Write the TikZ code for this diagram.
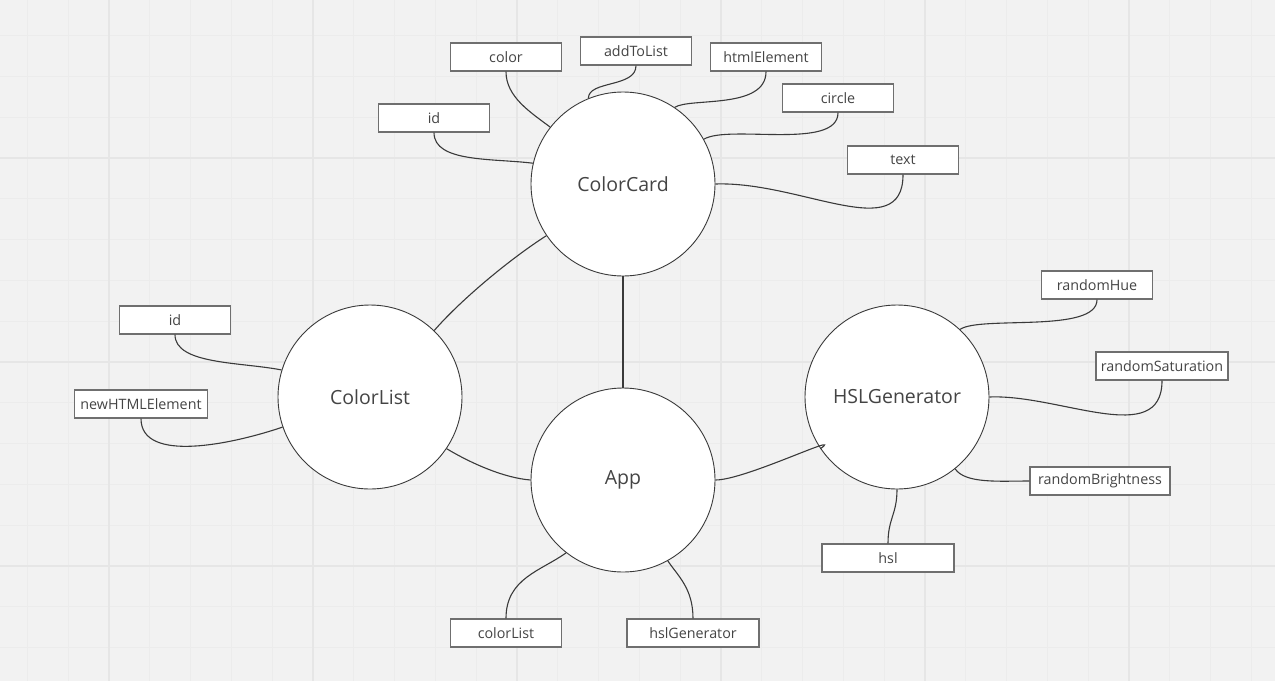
\documentclass[tikz,border=0pt]{standalone}
\usepackage{fontspec}
\setmainfont{Open Sans}
\definecolor{bg}{HTML}{F2F2F2}
\definecolor{gridminor}{HTML}{ECECEC}
\definecolor{gridmajor}{HTML}{E6E6E6}
\definecolor{ink}{HTML}{3A3A3A}
\definecolor{txt}{HTML}{444444}
\definecolor{boxline}{HTML}{6F6F6F}
\begin{document}
\begin{tikzpicture}[x=1pt,y=-1pt,
  entity/.style={circle,draw=ink,line width=0.9pt,fill=white,minimum size=184pt,inner sep=0pt,
    text=txt,font=\fontsize{19.5}{22}\selectfont},
  field/.style={rectangle,draw=boxline,line width=1.4pt,fill=white,minimum height=28pt,inner sep=0pt,
    text=txt,font=\fontsize{14.3}{16}\selectfont},
  link/.style={draw=ink,line width=1.1pt}]
% background and grid
\fill[bg] (0,0) rectangle (1275,681);
\useasboundingbox (0,0) rectangle (1275,681);
\foreach \i in {-2,...,28} {\draw[gridminor,line width=1pt] ({109+\i*40.8},0) -- ({109+\i*40.8},681);}
\foreach \j in {-3,...,12} {\draw[gridminor,line width=1pt] (0,{158+\j*40.8}) -- (1275,{158+\j*40.8});}
\foreach \i in {0,...,5} {\draw[gridmajor,line width=1.6pt] ({109+\i*204},0) -- ({109+\i*204},681);}
\foreach \j in {0,1,2} {\draw[gridmajor,line width=1.6pt] (0,{158+\j*204}) -- (1275,{158+\j*204});}

% main entities
\node[entity] (cc) at (623,184) {ColorCard};
\node[entity] (cl) at (370,397) {ColorList};
\node[entity] (app) at (623,480) {App};
\node[entity] (hsl) at (897,397) {HSLGenerator};

% fields
\node[field,minimum width=111pt] (fcolor) at (506,57) {color};
\node[field,minimum width=111pt] (fadd) at (636,51) {addToList};
\node[field,minimum width=111pt] (fhtml) at (766,57) {htmlElement};
\node[field,minimum width=111pt] (fcircle) at (838,98) {circle};
\node[field,minimum width=111pt] (fid) at (434,118) {id};
\node[field,minimum width=111pt] (ftext) at (903,160) {text};
\node[field,minimum width=111pt] (flid) at (175,320) {id};
\node[field,minimum width=133pt] (fnew) at (141,404) {newHTMLElement};
\node[field,minimum width=111pt] (fhue) at (1097,285) {randomHue};
\node[field,minimum width=132pt] (fsat) at (1162,366) {randomSaturation};
\node[field,minimum width=140pt] (fbri) at (1100,481) {randomBrightness};
\node[field,minimum width=132pt] (fhsl) at (888,558) {hsl};
\node[field,minimum width=111pt] (fcl) at (506,633) {colorList};
\node[field,minimum width=132pt] (fhg) at (693,633) {hslGenerator};

% links between entities
\draw[link] (cc.214.5) .. controls +(-36,23) and +(27,-31) .. (cl.46);
\draw[link] (cc.270) -- (app.90);
\draw[link] (cl.-34.5) .. controls +(25,15) and +(-26,-2) .. (app.180);
\draw[link] (app.0) .. controls +(30,0) and +(26,-18) .. (hsl.214.9);

% ColorCard fields
\draw[link] (fcolor.south) .. controls +(0,25) and +(-20,-15) .. (cc.142.5);
\draw[link] (fadd.south) .. controls +(0,22) and +(0,-18) .. (cc.112);
\draw[link] (fhtml.south) .. controls +(0,38) and +(15,-10) .. (cc.56);
\draw[link] (fcircle.south) .. controls +(0,38) and +(25,-15) .. (cc.29);
\draw[link] (ftext.south) .. controls +(0,71) and +(85,-3) .. (cc.0);
\draw[link] (fid.south) .. controls +(0,30) and +(-40,-5) .. (cc.167);

% ColorList fields
\draw[link] (flid.south) .. controls +(0,30) and +(-40,-8) .. (cl.163.5);
\draw[link] (fnew.south) .. controls +(0,45) and +(-50,17) .. (cl.199.6);

% HSLGenerator fields
\draw[link] (fhue.south) .. controls +(0,34) and +(20,-14) .. (hsl.47.6);
\draw[link] (fsat.south) .. controls +(0,68) and +(70,-3) .. (hsl.0);
\draw[link] (fbri.west) .. controls +(-30,0) and +(10,15) .. (hsl.-51.6);
\draw[link] (fhsl.north) .. controls +(0,-25) and +(0,25) .. (hsl.270);

% App fields
\draw[link] (fcl.north) .. controls +(0,-40) and +(-25,18) .. (app.232.5);
\draw[link] (fhg.north) .. controls +(0,-30) and +(10,15) .. (app.-61);
\end{tikzpicture}
\end{document}
